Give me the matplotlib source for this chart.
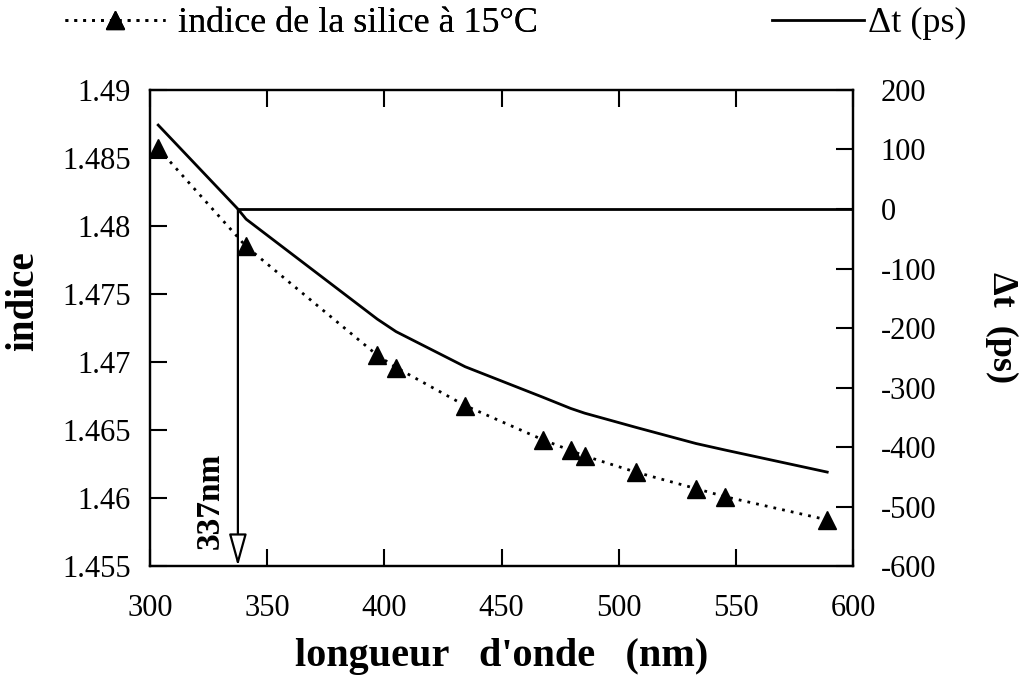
import matplotlib
matplotlib.use('Agg')
import matplotlib.pyplot as plt
from matplotlib.lines import Line2D

# ---- data ----
wavelength_nm = [303.5, 341, 397, 405, 434.5, 467.5, 479.5, 485.5, 507.5, 533, 545.5, 589]
indice = [1.4857, 1.4785, 1.4705, 1.4696, 1.4668, 1.4643, 1.4635, 1.4631, 1.4619, 1.4607, 1.4601, 1.4584]

dt_wavelength_nm = [303.5, 337.5, 341, 397, 405, 434.5, 467.5, 479.5, 485.5, 507.5, 533, 545.5, 589]
delta_t_ps = [141, 0, -17, -185, -206, -265, -316, -335, -343, -367, -394, -405, -442]

zero_nm = 337.5          # wavelength where delta t = 0
zero_dt = 0
x_limits = (300, 600)
indice_limits = (1.455, 1.49)
dt_limits = (-600, 200)
x_ticks = [300, 350, 400, 450, 500, 550, 600]
indice_ticks = [1.455, 1.46, 1.465, 1.47, 1.475, 1.48, 1.485, 1.49]
indice_ticklabels = ['1.455', '1.46', '1.465', '1.47', '1.475', '1.48', '1.485', '1.49']
dt_ticks = [-600, -500, -400, -300, -200, -100, 0, 100, 200]

plt.rcParams['font.family'] = ['Liberation Serif', 'DejaVu Serif']
plt.rcParams['axes.unicode_minus'] = False

fig = plt.figure(figsize=(10.24, 6.78), dpi=100)
ax = fig.add_axes([0.1465, 0.165, 0.6865, 0.7023])
ax2 = ax.twinx()

line_idx, = ax.plot(wavelength_nm, indice, color='black', lw=2.0,
                    linestyle=(0, (1, 2.2)), marker='^', markersize=13,
                    markerfacecolor='black', markeredgecolor='black')
line_dt, = ax2.plot(dt_wavelength_nm, delta_t_ps, color='black', lw=2.0)
ax2.plot([zero_nm, x_limits[1]], [zero_dt, zero_dt], color='black', lw=2.0)

ax2.annotate('', xy=(zero_nm, dt_limits[0]), xytext=(zero_nm, zero_dt),
             arrowprops=dict(arrowstyle='-|>,head_length=0.9,head_width=0.25',
                             fc='white', ec='black', lw=1.6,
                             shrinkA=0, shrinkB=0, mutation_scale=22))
ax.text(325.6, 1.4598, '337nm', rotation=90, ha='center', va='center',
        fontsize=24, fontweight='bold')

ax.set_xlim(*x_limits)
ax.set_ylim(*indice_limits)
ax2.set_ylim(*dt_limits)
ax.set_xticks(x_ticks)
ax.set_yticks(indice_ticks)
ax.set_yticklabels(indice_ticklabels)
ax2.set_yticks(dt_ticks)

ax.tick_params(axis='both', direction='in', length=12, width=1.5, labelsize=22)
ax.tick_params(axis='x', top=True, pad=20)
ax.tick_params(axis='y', pad=14)
ax2.tick_params(axis='y', direction='in', length=12, width=1.5, labelsize=22, pad=20)
for a in (ax, ax2):
    for s in a.spines.values():
        s.set_linewidth(1.6)

ax.set_xlabel("longueur   d'onde   (nm)", fontsize=29, fontweight='bold', labelpad=11)
ax.set_ylabel('indice', fontsize=28, fontweight='bold')
ax.yaxis.set_label_coords(-0.154, 0.557)
ax2.set_ylabel('Δt  (ps)', fontsize=26, fontweight='bold', rotation=270,
               labelpad=59)

leg1 = fig.legend(handles=[line_idx], labels=['indice de la silice à 15°C'],
                  loc='center left', bbox_to_anchor=(0.0635, 0.965), frameon=False,
                  fontsize=26, handlelength=2.77, handletextpad=0.36, numpoints=1,
                  borderpad=0, borderaxespad=0)
leg2 = fig.legend(handles=[Line2D([], [], color='black', lw=2.0)], labels=['Δt (ps)'],
                  loc='center left', bbox_to_anchor=(0.754, 0.965), frameon=False,
                  fontsize=26, handlelength=2.54, handletextpad=0.11,
                  borderpad=0, borderaxespad=0)
fig.add_artist(leg1)

fig.savefig('out.png', dpi=100)
